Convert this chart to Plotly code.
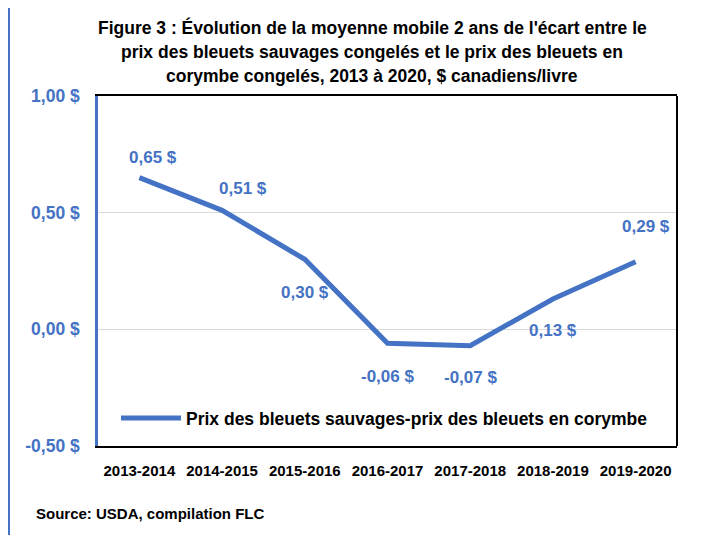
import plotly.graph_objects as go

categories = ["2013-2014", "2014-2015", "2015-2016", "2016-2017", "2017-2018", "2018-2019", "2019-2020"]
values = [0.65, 0.51, 0.30, -0.06, -0.07, 0.13, 0.29]
series_name = "Prix des bleuets sauvages-prix des bleuets en corymbe"
y_tick_vals = [-0.5, 0.0, 0.5, 1.0]
y_tick_text = ["-0,50 $", "0,00 $", "0,50 $", "1,00 $"]
title_lines = [
    "Figure 3 : Évolution de la moyenne mobile 2 ans de l'écart entre le",
    "prix des bleuets sauvages congelés et le prix des bleuets en",
    "corymbe congelés, 2013 à 2020, $ canadiens/livre",
]
source_text = "Source: USDA, compilation FLC"

# label placement (style only): pixel shifts relative to each point
label_shifts = [(14, 20), (21, 22), (0, -33), (0, -33), (0, -32), (0, -31), (10, 35)]

BLUE = "#4472C4"
FONT = "Liberation Sans, Arial, sans-serif"

# page geometry (browser body has an 8px default margin)
OFF = 8
PAGE_W, PAGE_H = 713, 535
PL, PR, PT, PB = 98, 677, 96, 446
W, H = PAGE_W - OFF, PAGE_H - OFF
PW, PH = PR - PL, PB - PT


def px_x(px):
    return (px - PL) / PW


def px_y(py):
    return (PB - py) / PH


def fmt(v):
    return ("%.2f" % v).replace(".", ",") + " $"


fig = go.Figure()
fig.add_trace(go.Scatter(
    x=categories, y=values, mode="lines", name=series_name,
    line=dict(color=BLUE, width=5),
    showlegend=True,
))

annotations = []
for c, v, (dx, dy) in zip(categories, values, label_shifts):
    annotations.append(dict(
        x=c, y=v, xref="x", yref="y", text="<b>%s</b>" % fmt(v), showarrow=False,
        xshift=dx, yshift=dy, font=dict(family=FONT, size=17, color=BLUE),
        xanchor="center", yanchor="middle",
    ))

title_y = [27, 52, 76]
for line, ty in zip(title_lines, title_y):
    annotations.append(dict(
        x=px_x(372), y=px_y(ty), xref="paper", yref="paper", text="<b>%s</b>" % line,
        showarrow=False, xanchor="center", yanchor="middle",
        font=dict(family=FONT, size=17.5, color="black"),
    ))

annotations.append(dict(
    x=px_x(34), y=px_y(513), xref="paper", yref="paper", text="<b>%s</b>" % source_text,
    showarrow=False, xanchor="left", yanchor="middle",
    font=dict(family=FONT, size=15, color="black"),
))

shapes = [
    # right border of plot area
    dict(type="line", xref="paper", yref="paper", x0=1, x1=1, y0=0, y1=1,
         line=dict(color="black", width=2)),
    # left vertical page rule
    dict(type="line", xref="paper", yref="paper", x0=px_x(9), x1=px_x(9),
         y0=px_y(PAGE_H), y1=px_y(OFF),
         line=dict(color=BLUE, width=2)),
]

fig.update_layout(
    width=W, height=H,
    margin=dict(l=PL - OFF, r=PAGE_W - PR, t=PT - OFF, b=PAGE_H - PB, pad=0),
    paper_bgcolor="white", plot_bgcolor="white",
    font=dict(family=FONT),
    annotations=annotations,
    shapes=shapes,
    legend=dict(
        x=px_x(116), y=px_y(418), xanchor="left", yanchor="middle",
        bgcolor="rgba(0,0,0,0)",
        font=dict(family=FONT, size=17.5, color="black", weight="bold"),
        itemwidth=60,
    ),
    xaxis=dict(
        type="category", range=[-0.5, len(categories) - 0.5],
        showline=True, linecolor="black", linewidth=2, mirror=True,
        showgrid=False, ticks="", ticklabelstandoff=10,
        tickfont=dict(family=FONT, size=15, color="black", weight="bold"),
        zeroline=False,
    ),
    yaxis=dict(
        range=[-0.5, 1.0], tickvals=y_tick_vals, ticktext=y_tick_text,
        showline=True, linecolor=BLUE, linewidth=2.5,
        showgrid=True, gridcolor="#D9D9D9", gridwidth=1,
        zeroline=False, ticks="", ticklabelstandoff=12,
        tickfont=dict(family=FONT, size=17.5, color=BLUE, weight="bold"),
    ),
)

fig.write_html("out.html")
